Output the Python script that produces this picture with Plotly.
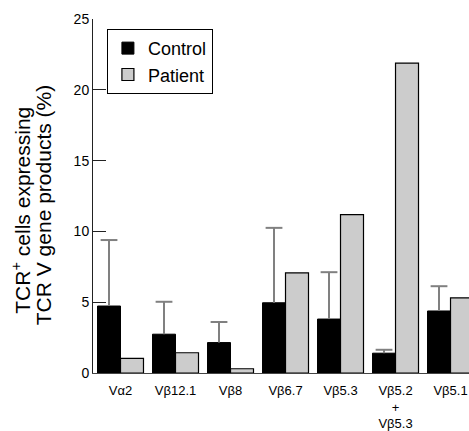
import plotly.graph_objects as go

categories = ["Vα2", "Vβ12.1", "Vβ8", "Vβ6.7", "Vβ5.3", "Vβ5.2<br>+<br>Vβ5.3", "Vβ5.1"]
control = [4.73, 2.74, 2.15, 4.96, 3.81, 1.40, 4.38]
control_err_top = [9.39, 5.03, 3.60, 10.25, 7.12, 1.64, 6.13]
patient = [1.03, 1.43, 0.30, 7.07, 11.19, 21.89, 5.31]
y_ticks = [0, 5, 10, 15, 20, 25]

control_err = [t - v for t, v in zip(control_err_top, control)]
xpos = list(range(len(categories)))
bargap = 0.164
bar_w = (1 - bargap) / 2

FONT = "Liberation Sans, Arial, Helvetica, sans-serif"
ERR_COLOR = "#808080"

fig = go.Figure()
fig.add_trace(go.Bar(
    x=xpos, y=control, name="Control",
    marker=dict(color="black", line=dict(color="black", width=1)),
    error_y=dict(type="data", symmetric=False, array=control_err,
                 arrayminus=[0] * len(control), color=ERR_COLOR,
                 thickness=2, width=0),
))
fig.add_trace(go.Bar(
    x=xpos, y=patient, name="Patient",
    marker=dict(color="#cccccc", line=dict(color="black", width=1.2)),
))
# caps of the error bars
fig.add_trace(go.Scatter(
    x=[p - bar_w / 2 for p in xpos], y=control_err_top, mode="markers",
    marker=dict(symbol="line-ew", size=12, line=dict(color=ERR_COLOR, width=2)),
    showlegend=False, hoverinfo="skip", cliponaxis=False,
))

fig.update_layout(
    width=469, height=431,
    margin=dict(l=93, r=0, t=19, b=56),
    paper_bgcolor="white", plot_bgcolor="white",
    barmode="group", bargap=bargap, bargroupgap=0,
    font=dict(family=FONT, color="black"),
    showlegend=True,
    legend=dict(x=0.037, y=0.972, xanchor="left", yanchor="top",
                bordercolor="black", borderwidth=1, bgcolor="white",
                font=dict(size=18, family=FONT), tracegroupgap=0,
                itemwidth=30),
)
fig.update_xaxes(
    range=[-0.5, 6.336], tickmode="array", tickvals=xpos, ticktext=categories,
    showline=True, linecolor="#444444", linewidth=1, ticks="",
    ticklabelstandoff=5,
    showgrid=False, zeroline=False, tickfont=dict(size=13, family=FONT),
)
fig.update_yaxes(
    range=[0, 25], tickvals=y_ticks, showline=True, linecolor="#222222",
    linewidth=1, ticks="inside", ticklen=13, tickcolor="#222222", tickwidth=1,
    showgrid=False, zeroline=False, tickfont=dict(size=14, family=FONT),
)
fig.add_annotation(
    text="TCR<sup>+</sup> cells expressing", textangle=-90,
    xref="paper", yref="paper", x=-0.19, y=0.46, xanchor="center", yanchor="middle",
    showarrow=False, font=dict(size=21, family=FONT),
)
fig.add_annotation(
    text="TCR V gene products (%)", textangle=-90,
    xref="paper", yref="paper", x=-0.132, y=0.475, xanchor="center", yanchor="middle",
    showarrow=False, font=dict(size=21, family=FONT),
)
fig.write_html(
    "out.html",
    config={"displayModeBar": False},
    post_script="document.body.style.margin='0';document.body.style.overflow='hidden';",
)
